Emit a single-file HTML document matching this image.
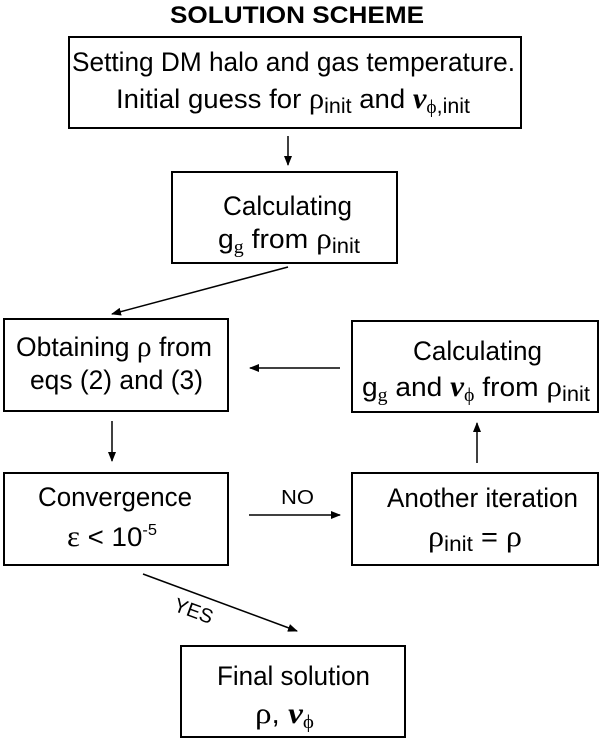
<!DOCTYPE html>
<html><head><meta charset="utf-8"><style>
html,body{margin:0;padding:0;background:#fff;}
svg{display:block;}
text{font-family:"Liberation Sans",Arial,sans-serif;font-size:27px;fill:#000;}
.s{font-family:"Liberation Serif",serif;}
.v{font-family:"Liberation Serif",serif;font-weight:bold;font-style:italic;}
</style></head><body>
<svg width="600" height="742" viewBox="0 0 600 742" xmlns="http://www.w3.org/2000/svg">
<defs><marker id="a" markerWidth="10" markerHeight="8" refX="9" refY="4" orient="auto" markerUnits="userSpaceOnUse"><path d="M0,0 L10,4 L0,8 z" fill="#000"/></marker></defs>
<g fill="none" stroke="#000" stroke-width="2">
<rect x="69" y="37" width="452" height="91"/>
<rect x="172" y="172" width="225" height="91"/>
<rect x="4" y="319" width="224" height="92"/>
<rect x="352" y="321" width="246" height="91"/>
<rect x="4" y="473" width="224" height="92"/>
<rect x="352" y="473" width="246" height="92"/>
<rect x="181" y="646" width="224" height="91"/>
</g>
<g stroke="#000" stroke-width="1.5" marker-end="url(#a)">
<line x1="288" y1="136" x2="288" y2="165"/>
<line x1="288" y1="267" x2="112" y2="314"/>
<line x1="340" y1="368" x2="250" y2="368"/>
<line x1="112" y1="421" x2="112" y2="461"/>
<line x1="249" y1="515" x2="340" y2="515"/>
<line x1="477" y1="463" x2="477" y2="423"/>
<line x1="143" y1="574" x2="297" y2="631"/>
</g>
<text x="170" y="23" textLength="254" lengthAdjust="spacingAndGlyphs" style="font-weight:bold;font-size:24px">SOLUTION SCHEME</text>
<text x="72" y="71" textLength="443" lengthAdjust="spacingAndGlyphs">Setting DM halo and gas temperature.</text>
<text x="116" y="108" textLength="354" lengthAdjust="spacingAndGlyphs">Initial guess for <tspan class="s" font-size="30">ρ</tspan><tspan font-size="21" dy="5">init</tspan><tspan dy="-5">  and </tspan><tspan class="v" font-size="30">v</tspan><tspan class="s" font-size="19" dy="5">ϕ</tspan><tspan font-size="21">,init</tspan></text>
<text x="223" y="215" textLength="129" lengthAdjust="spacingAndGlyphs">Calculating</text>
<text x="218" y="248" textLength="142" lengthAdjust="spacingAndGlyphs">g<tspan class="s" font-size="19" dy="5">g</tspan><tspan dy="-5"> from </tspan><tspan class="s" font-size="30">ρ</tspan><tspan font-size="21" dy="5">init</tspan></text>
<text x="16" y="356" textLength="196" lengthAdjust="spacingAndGlyphs">Obtaining <tspan class="s" font-size="30">ρ</tspan> from</text>
<text x="30" y="389" textLength="173" lengthAdjust="spacingAndGlyphs">eqs (2) and (3)</text>
<text x="413" y="360" textLength="129" lengthAdjust="spacingAndGlyphs">Calculating</text>
<text x="362" y="396" textLength="228" lengthAdjust="spacingAndGlyphs">g<tspan class="s" font-size="19" dy="5">g</tspan><tspan dy="-5"> and </tspan><tspan class="v" font-size="30">v</tspan><tspan class="s" font-size="19" dy="5">ϕ</tspan><tspan dy="-5"> from </tspan><tspan class="s" font-size="30">ρ</tspan><tspan font-size="21" dy="5">init</tspan></text>
<text x="38" y="506" textLength="154" lengthAdjust="spacingAndGlyphs">Convergence</text>
<text x="67" y="546" textLength="90" lengthAdjust="spacingAndGlyphs"><tspan class="s" font-size="30">ε</tspan> &lt; 10<tspan font-size="16" dy="-11">-5</tspan></text>
<text x="281" y="504" textLength="33" lengthAdjust="spacingAndGlyphs" style="font-size:20px">NO</text>
<text x="387" y="507" textLength="191" lengthAdjust="spacingAndGlyphs">Another iteration</text>
<text x="428" y="546" textLength="94" lengthAdjust="spacingAndGlyphs"><tspan class="s" font-size="30">ρ</tspan><tspan font-size="21" dy="5">init</tspan><tspan dy="-5"> = </tspan><tspan class="s" font-size="30">ρ</tspan></text>
<text x="174" y="618" transform="rotate(20 195 610)" style="font-size:20px">YES</text>
<text x="217" y="685" textLength="153" lengthAdjust="spacingAndGlyphs">Final solution</text>
<text x="255" y="723" textLength="59" lengthAdjust="spacingAndGlyphs"><tspan class="s" font-size="30">ρ</tspan>, <tspan class="v" font-size="30">v</tspan><tspan class="s" font-size="19" dy="5">ϕ</tspan></text>
</svg>
</body></html>
